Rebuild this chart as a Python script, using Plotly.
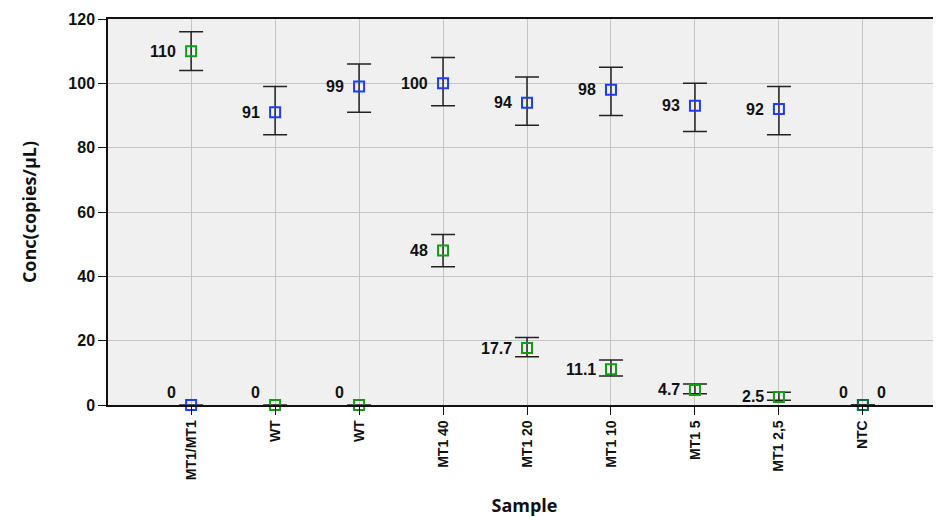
import plotly.graph_objects as go

samples = ["MT1/MT1", "WT", "WT", "MT1 40", "MT1 20", "MT1 10", "MT1 5", "MT1 2,5", "NTC"]
blue_vals = [0, 91, 99, 100, 94, 98, 93, 92, 0]
blue_upper = [0, 99, 106, 108, 102, 105, 100, 99, 0]
blue_lower = [0, 84, 91, 93, 87, 90, 85, 84, 0]
blue_labels = ["0", "91", "99", "100", "94", "98", "93", "92", "0"]
green_vals = [110, 0, 0, 48, 17.7, 11.1, 4.7, 2.5, 0]
green_upper = [116, 0, 0, 53, 21, 14, 6.5, 4, 0]
green_lower = [104, 0, 0, 43, 15, 9, 3.5, 1.5, 0]
green_labels = ["110", "0", "0", "48", "17.7", "11.1", "4.7", "2.5", "0"]
y_ticks = [0, 20, 40, 60, 80, 100, 120]

xs = list(range(len(samples)))
LABEL_FONT = dict(family="Liberation Sans", size=16, color="#111111", weight="bold")

def err(vals, up, lo):
    return dict(type="data", symmetric=False,
                array=[u - v for u, v in zip(up, vals)],
                arrayminus=[v - l for v, l in zip(vals, lo)],
                color="#222222", thickness=1.5, width=12)

fig = go.Figure()
fig.add_trace(go.Scatter(
    x=xs, y=green_vals, mode="markers",
    marker=dict(symbol="square-open", size=10, color="#159a15", line=dict(width=2)),
    error_y=err(green_vals, green_upper, green_lower),
    cliponaxis=False, showlegend=False))
fig.add_trace(go.Scatter(
    x=xs, y=blue_vals, mode="markers",
    marker=dict(symbol="square-open", size=10,
                color=["#1e3cff"] * (len(xs) - 1) + ["#0e6a4a"], line=dict(width=2)),
    error_y=err(blue_vals, blue_upper, blue_lower),
    cliponaxis=False, showlegend=False))

annotations = []
for series_vals, labels, right_last in ((green_vals, green_labels, False), (blue_vals, blue_labels, True)):
    for i, (v, lab) in enumerate(zip(series_vals, labels)):
        on_right = right_last and i == len(xs) - 1
        annotations.append(dict(
            x=xs[i], y=v, text=lab, showarrow=False,
            xanchor="left" if on_right else "right",
            xshift=12 if on_right else -13,
            yshift=13 if v == 0 else 0,
            font=LABEL_FONT))

fig.update_layout(
    width=933, height=509,
    margin=dict(l=100, r=0, t=11, b=112),
    paper_bgcolor="white", plot_bgcolor="#f0f0f0",
    font=dict(family="Liberation Sans", color="#111111"),
    annotations=annotations,
)
fig.update_xaxes(
    range=[-0.99, 8.93], tickvals=xs, ticktext=samples, tickangle=-90,
    tickfont=dict(family="Liberation Sans", size=14, color="#111111", weight="bold"),
    showgrid=True, gridcolor="#c4c4c4", gridwidth=1,
    showline=True, linecolor="#111111", linewidth=1.5, mirror=True,
    ticks="outside", ticklen=8, tickcolor="#111111",
    title=dict(text="Sample", font=dict(family="Open Sans", size=18, color="#111111", weight="bold"), standoff=21),
    zeroline=False, automargin=False,
)
fig.update_yaxes(
    range=[0, 120], tickvals=y_ticks,
    tickfont=dict(family="Liberation Sans", size=16, color="#111111", weight="bold"),
    showgrid=True, gridcolor="#c4c4c4", gridwidth=1,
    showline=True, linecolor="#111111", linewidth=1.5, mirror=True,
    ticks="outside", ticklen=8, tickcolor="#111111",
    title=dict(text="Conc(copies/μL)", font=dict(family="Open Sans", size=18, color="#111111", weight="bold"), standoff=27),
    zeroline=False, automargin=False,
)

fig.write_html("out.html")
